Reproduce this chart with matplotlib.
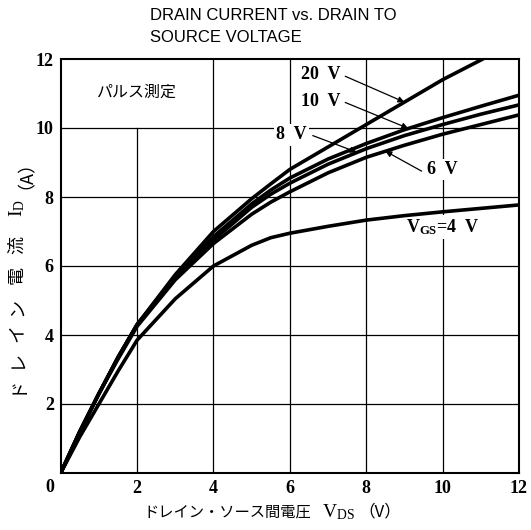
import matplotlib
matplotlib.use("Agg")
import matplotlib.pyplot as plt

plt.rcParams['mathtext.fontset'] = 'custom'
plt.rcParams['mathtext.rm'] = 'Liberation Serif'
plt.rcParams['mathtext.it'] = 'Liberation Serif:italic'
plt.rcParams['mathtext.bf'] = 'Liberation Serif:bold'

# Drain-source voltage (V) and drain current (A) for each gate voltage
vds = [0, 0.5, 1, 1.5, 2, 3, 4, 5, 5.5, 6, 7, 8, 9, 10, 11, 12]
id_20v = [0, 1.2, 2.3, 3.35, 4.3, 5.75, 7.0, 7.95, 8.38, 8.8, 9.45, 10.1, 10.75, 11.4, 11.97, 12.55]
id_10v = [0, 1.2, 2.3, 3.35, 4.3, 5.7, 6.85, 7.8, 8.2, 8.55, 9.1, 9.55, 9.95, 10.3, 10.63, 10.95]
id_8v = [0, 1.2, 2.3, 3.35, 4.3, 5.65, 6.75, 7.7, 8.08, 8.4, 8.95, 9.4, 9.78, 10.1, 10.4, 10.67]
id_6v = [0, 1.2, 2.3, 3.3, 4.25, 5.6, 6.65, 7.5, 7.85, 8.15, 8.7, 9.15, 9.5, 9.82, 10.1, 10.38]
id_4v = [0, 1.05, 2.0, 2.95, 3.85, 5.05, 6.0, 6.6, 6.82, 6.95, 7.15, 7.33, 7.46, 7.57, 7.67, 7.77]

x_ticks = [2, 4, 6, 8, 10, 12]
y_ticks = [2, 4, 6, 8, 10, 12]

W, H = 531, 530
fig = plt.figure(figsize=(W / 100, H / 100), dpi=100)
fig.patch.set_facecolor('white')


def fx(px):
    return px / W


def fy(py):
    return 1 - py / H


left, right, top, bottom = 60.7, 519.0, 59.0, 473.0
ax = fig.add_axes([fx(left), fy(bottom), fx(right - left), (bottom - top) / H])
ax.set_xlim(0, 12)
ax.set_ylim(0, 12)

# grid: the x = 2 line stops under the measurement note
for x in x_ticks[:-1]:
    ax.plot([x, x], [0, 10 if x == 2 else 12], color='black', lw=0.9, zorder=1)
for y in y_ticks[:-1]:
    ax.plot([0, 12], [y, y], color='black', lw=0.9, zorder=1)

for series in (id_20v, id_10v, id_8v, id_6v, id_4v):
    ax.plot(vds, series, color='black', lw=2.6, solid_capstyle='round',
            solid_joinstyle='round', zorder=3)

for s in ax.spines.values():
    s.set_linewidth(1.5)

tick_font = dict(family='Liberation Serif', weight='bold', size=13)
ax.set_xticks(x_ticks)
ax.set_yticks(y_ticks)
ax.set_xticklabels([str(v) for v in x_ticks], **tick_font)
ax.set_yticklabels([str(v) for v in y_ticks], **tick_font)
ax.tick_params(length=0)
ax.tick_params(axis='x', pad=5)
ax.tick_params(axis='y', pad=5)
fig.text(fx(50), fy(488), '0', ha='center', va='center', **tick_font)

# curve labels sit under the curves but mask the grid behind them
box = dict(facecolor='white', edgecolor='none', pad=1.5)
lbl = dict(family='Liberation Serif', weight='bold', size=13,
           ha='center', va='center', zorder=2, bbox=box)
arrow = dict(arrowstyle='-|>', lw=0.9, color='black', mutation_scale=9,
             shrinkA=0, shrinkB=0)

ax.text(6.8, 11.54, '20  V', **lbl)
ax.annotate('', xy=(9.0, 10.75), xytext=(7.45, 11.5), arrowprops=arrow, zorder=4)
ax.text(6.8, 10.76, '10  V', **lbl)
ax.annotate('', xy=(9.1, 9.99), xytext=(7.45, 10.74), arrowprops=arrow, zorder=4)
ax.text(6.05, 9.8, '8  V', **lbl)
ax.annotate('', xy=(7.75, 9.3), xytext=(6.6, 9.78), arrowprops=arrow, zorder=4)
ax.text(9.98, 8.8, '6  V', **lbl)
ax.annotate('', xy=(8.5, 9.33), xytext=(9.45, 8.75), arrowprops=arrow, zorder=4)
ax.text(10.0, 7.12, r'$\mathbf{V_{GS}}$=4  V', **lbl)

jp = ['Noto Sans CJK JP', 'DejaVu Sans']
ax.text(2.0, 11.05, 'パルス測定', family=jp, size=11.5, ha='center', va='center')

# title
title_font = dict(family='Liberation Sans', size=12, ha='left', va='center')
fig.text(fx(150), fy(16), 'DRAIN CURRENT vs. DRAIN TO', **title_font)
fig.text(fx(150), fy(38), 'SOURCE VOLTAGE', **title_font)

# x-axis label
fig.text(fx(143), fy(512), 'ドレイン・ソース間電圧', family=jp, size=11,
         ha='left', va='center')
fig.text(fx(322), fy(512), r'$\mathrm{V_{DS}}$', size=14, ha='left', va='center')
fig.text(fx(358), fy(512), '（V）', family=jp, size=12, ha='left', va='center')

# y-axis label, set with wide letter spacing
ylab_parts = [('ド', 385), ('レ', 359), ('イ', 333), ('ン', 307), ('電', 275),
              ('流', 245), ('$\\mathrm{I_D}$', 208), ('（A）', 166)]
for ch, py in ylab_parts:
    size = 14 if ch.startswith('$') else 13
    fig.text(fx(17), fy(py), ch, family=jp, size=size, rotation=90,
             ha='center', va='center')

fig.savefig('out.png', dpi=100, facecolor='white')
